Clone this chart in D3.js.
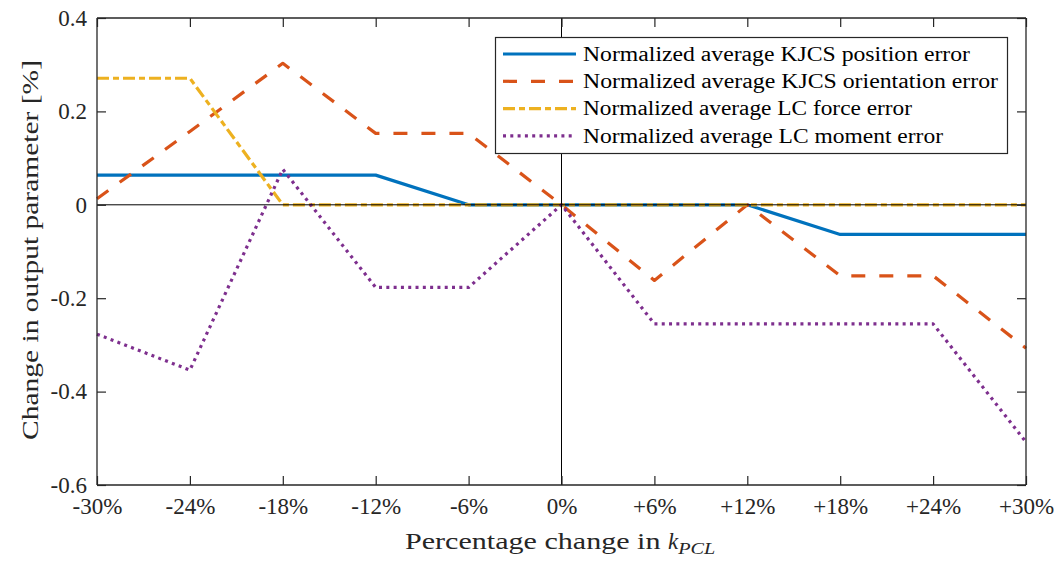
<!DOCTYPE html>
<html>
<head>
<meta charset="utf-8">
<script src="https://cdn.jsdelivr.net/npm/d3@7"></script>
<style>
  html, body { margin: 0; padding: 0; background: #fff; }
  svg, svg text { font-family: "Liberation Serif", "DejaVu Serif", serif; }
</style>
</head>
<body>
<svg id="chart" width="1061" height="561"></svg>
<script>
// Percentage change in k_PCL
const categories = ["-30%", "-24%", "-18%", "-12%", "-6%", "0%", "+6%", "+12%", "+18%", "+24%", "+30%"];

// Change in output parameter [%] for each category
const positionError    = [0.0635, 0.0635, 0.0635, 0.0635, 0, 0, 0, 0, -0.0635, -0.0635, -0.0635];
const orientationError = [0.013, 0.157, 0.303, 0.153, 0.153, 0, -0.162, 0, -0.152, -0.152, -0.307];
const forceError       = [0.271, 0.271, 0, 0, 0, 0, 0, 0, 0, 0, 0];
const momentError      = [-0.277, -0.354, 0.076, -0.177, -0.177, 0, -0.255, -0.255, -0.255, -0.255, -0.508];

const seriesNames = [
  "Normalized average KJCS position error",
  "Normalized average KJCS orientation error",
  "Normalized average LC force error",
  "Normalized average LC moment error"
];

const yTicks = [-0.6, -0.4, -0.2, 0, 0.2, 0.4];

const series = [
  { name: seriesNames[0], values: positionError,    color: "#0072BD", dash: null },
  { name: seriesNames[1], values: orientationError, color: "#D95319", dash: "14,14" },
  { name: seriesNames[2], values: forceError,       color: "#EDB120", dash: "12,4,6,4" },
  { name: seriesNames[3], values: momentError,      color: "#7E2F8E", dash: "3,4.3" }
];

const svg = d3.select("#chart");
const plot = { left: 97, right: 1026, top: 18, bottom: 485 };
const serif = "'Liberation Serif', 'DejaVu Serif', serif";

const x = d3.scalePoint().domain(categories).range([plot.left, plot.right]).padding(0);
const y = d3.scaleLinear().domain([-0.6, 0.4]).range([plot.bottom, plot.top]);

const axisColor = "#262626";
const tickLen = 9;

// Series lines
const line = d3.line()
  .x((d, i) => x(categories[i]))
  .y(d => y(d));

const lines = svg.append("g");
series.forEach(s => {
  lines.append("path")
    .datum(s.values)
    .attr("d", line)
    .attr("fill", "none")
    .attr("stroke", s.color)
    .attr("stroke-width", 3.2)
    .attr("stroke-linejoin", "round")
    .attr("stroke-dasharray", s.dash);
});

// Reference lines through zero
svg.append("line")
  .attr("x1", plot.left).attr("x2", plot.right)
  .attr("y1", y(0)).attr("y2", y(0))
  .attr("stroke", "#000").attr("stroke-width", 1);
svg.append("line")
  .attr("x1", x("0%")).attr("x2", x("0%"))
  .attr("y1", plot.top).attr("y2", plot.bottom)
  .attr("stroke", "#000").attr("stroke-width", 1);

// Axes on all four sides, ticks pointing inward
const bottomAxis = d3.axisBottom(x).tickSize(-tickLen).tickPadding(13);
const topAxis = d3.axisTop(x).tickSize(-tickLen).tickFormat("");
const leftAxis = d3.axisLeft(y).tickValues(yTicks).tickSize(-tickLen).tickPadding(10)
  .tickFormat(d => d === 0 ? "0" : d3.format(".1f")(d).replace("−", "-"));
const rightAxis = d3.axisRight(y).tickValues(yTicks).tickSize(-tickLen).tickFormat("");

function styleAxis(g) {
  g.attr("font-family", null).attr("font-size", null);
  g.select(".domain").attr("stroke", axisColor).attr("stroke-width", 1.3);
  g.selectAll(".tick line").attr("stroke", axisColor).attr("stroke-width", 1.2);
  g.selectAll(".tick text")
    .attr("fill", "#262626")
    .style("font-family", serif)
    .style("font-size", "23px");
}

svg.append("g").attr("transform", `translate(0,${plot.bottom})`).call(bottomAxis).call(styleAxis)
  .call(g => g.select(".domain").attr("d", `M${plot.left},0H${plot.right}`));
svg.append("g").attr("transform", `translate(0,${plot.top})`).call(topAxis).call(styleAxis)
  .call(g => g.select(".domain").attr("d", `M${plot.left},0H${plot.right}`));
svg.append("g").attr("transform", `translate(${plot.left},0)`).call(leftAxis).call(styleAxis)
  .call(g => g.select(".domain").attr("d", `M0,${plot.bottom}V${plot.top}`));
svg.append("g").attr("transform", `translate(${plot.right},0)`).call(rightAxis).call(styleAxis)
  .call(g => g.select(".domain").attr("d", `M0,${plot.bottom}V${plot.top}`));

// Axis titles
const xLabel = svg.append("text")
  .attr("x", 405)
  .attr("y", 549)
  .attr("fill", "#262626")
  .style("font-family", serif)
  .style("font-size", "23px");
xLabel.append("tspan").attr("textLength", 263).attr("lengthAdjust", "spacingAndGlyphs")
  .text("Percentage change in ");
xLabel.append("tspan").style("font-style", "italic").text("k");
xLabel.append("tspan").style("font-style", "italic").style("font-size", "16px")
  .attr("dy", 5).attr("textLength", 37).attr("lengthAdjust", "spacingAndGlyphs").text("PCL");

svg.append("text")
  .attr("transform", `translate(30,${250}) rotate(-90)`)
  .attr("text-anchor", "middle")
  .attr("dy", "0.35em")
  .attr("fill", "#262626")
  .attr("textLength", 380)
  .attr("lengthAdjust", "spacingAndGlyphs")
  .style("font-family", serif)
  .style("font-size", "23px")
  .text("Change in output parameter [%]");

// Legend
const legendWidths = [387, 415, 329, 360];
const legend = svg.append("g");
legend.append("rect")
  .attr("x", 495.5).attr("y", 37.5)
  .attr("width", 512).attr("height", 116)
  .attr("fill", "#fff")
  .attr("stroke", axisColor).attr("stroke-width", 1.2);

series.forEach((s, i) => {
  const cy = 54 + i * 27.3;
  legend.append("line")
    .attr("x1", 503).attr("x2", 576)
    .attr("y1", cy).attr("y2", cy)
    .attr("stroke", s.color)
    .attr("stroke-width", 3.2)
    .attr("stroke-dasharray", s.dash);
  legend.append("text")
    .attr("x", 583).attr("y", cy)
    .attr("dy", "0.33em")
    .attr("fill", "#000")
    .attr("textLength", legendWidths[i])
    .attr("lengthAdjust", "spacingAndGlyphs")
    .style("font-family", serif)
    .style("font-size", "20px")
    .text(s.name);
});
</script>
</body>
</html>
